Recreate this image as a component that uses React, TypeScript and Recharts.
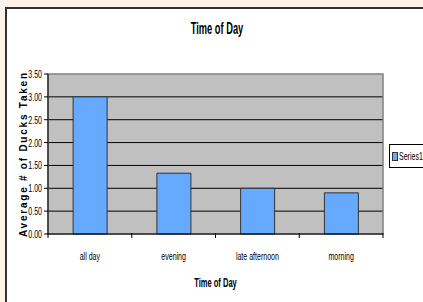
import React from 'react';
import { BarChart, Bar, XAxis, YAxis, CartesianGrid, ReferenceArea, Label } from 'recharts';

const categories = ['all day', 'evening', 'late afternoon', 'morning'];
const series1 = [3.0, 1.33, 1.0, 0.9];
const yTicks = [0, 0.5, 1, 1.5, 2, 2.5, 3, 3.5];
const gridValues = [0.5, 1, 1.5, 2, 2.5, 3];

const chartTitle = 'Time of Day';
const xTitle = 'Time of Day';
const yTitle = 'Average # of Ducks Taken';
const seriesName = 'Series1';

const data = categories.map((c, i) => ({ name: c, value: series1[i] }));

const FONT = '"Liberation Sans", Arial, sans-serif';
const SX = 0.64;

const YTitle = (props: any) => {
  const vb = props.viewBox || {};
  const cx = vb.x + vb.width - 25;
  const cy = vb.y + vb.height / 2 + 1;
  return (
    <text
      x={cx}
      y={cy}
      transform={`rotate(-90 ${cx} ${cy})`}
      textAnchor="middle"
      dominantBaseline="central"
      fontFamily={FONT}
      fontSize={10}
      fontWeight="bold"
      fill="#000"
      textLength={164}
      lengthAdjust="spacing"
    >
      {yTitle}
    </text>
  );
};

const XTitle = (props: any) => {
  const vb = props.viewBox || {};
  const cx = vb.x + vb.width / 2;
  return (
    <text
      transform={`translate(${cx} 287) scale(0.58 1)`}
      textAnchor="middle"
      fontFamily={FONT}
      fontSize={13}
      fontWeight="bold"
      fill="#000"
    >
      {xTitle}
    </text>
  );
};

const CatTick = (props: any) => {
  const { x, y, payload, index, width, visibleTicksCount } = props;
  const n = visibleTicksCount || categories.length;
  const half = width / n / 2;
  const axisY = y - 1;
  return (
    <g>
      <line x1={x - half} y1={axisY} x2={x - half} y2={axisY + 5} stroke="#000" />
      {index === n - 1 ? (
        <line x1={x + half} y1={axisY} x2={x + half} y2={axisY + 5} stroke="#000" />
      ) : null}
      <text
        transform={`translate(${x} ${axisY + 27}) scale(${SX} 1)`}
        textAnchor="middle"
        fontFamily={FONT}
        fontSize={11}
        fill="#000"
      >
        {payload.value}
      </text>
    </g>
  );
};

const ValTick = (props: any) => {
  const { x, y, payload } = props;
  return (
    <text
      transform={`translate(${x} ${y + 4}) scale(${SX} 1)`}
      textAnchor="end"
      fontFamily={FONT}
      fontSize={11}
      fill="#000"
    >
      {Number(payload.value).toFixed(2)}
    </text>
  );
};

export default function App() {
  return (
    <div style={{ position: 'absolute', left: 0, top: 0, width: 423, height: 302, background: '#fdf2ea', overflow: 'hidden' }}>
      <div
        style={{
          position: 'absolute',
          left: 5,
          top: 7,
          width: 440,
          height: 320,
          border: '2px solid #333',
          background: '#fff',
        }}
      />
      <div
        style={{
          position: 'absolute',
          left: 217,
          top: 21,
          lineHeight: '16px',
          whiteSpace: 'nowrap',
          transform: 'translateX(-50%) scaleX(0.58)',
          fontFamily: FONT,
          fontSize: 16,
          fontWeight: 'bold',
          color: '#000',
        }}
      >
        {chartTitle}
      </div>
      <div style={{ position: 'absolute', left: 0, top: 0 }}>
        <BarChart
          width={423}
          height={302}
          data={data}
          margin={{ top: 74, right: 40, bottom: 67, left: 0 }}
          barCategoryGap="30%"
        >
          <CartesianGrid
            horizontal={true}
            vertical={false}
            fill="#c0c0c0"
            fillOpacity={1}
            stroke="#000"
            horizontalValues={gridValues}
          />
          <ReferenceArea y1={0} y2={3.5} fill="none" stroke="#808080" strokeWidth={1.5} ifOverflow="visible" />
          <XAxis
            dataKey="name"
            height={1}
            axisLine={{ stroke: '#000', strokeWidth: 1 }}
            tickLine={false}
            tickSize={0}
            tickMargin={0}
            interval={0}
            tick={<CatTick />}
          >
            <Label content={<XTitle />} />
          </XAxis>
          <YAxis
            width={48}
            domain={[0, 3.5]}
            ticks={yTicks}
            interval={0}
            axisLine={{ stroke: '#000' }}
            tickLine={{ stroke: '#000' }}
            tickSize={4}
            tick={<ValTick />}
          >
            <Label content={<YTitle />} />
          </YAxis>
          <Bar
            dataKey="value"
            fill="#66aaff"
            stroke="#333"
            strokeWidth={1}
            isAnimationActive={false}
          />
        </BarChart>
      </div>
      <div
        style={{
          position: 'absolute',
          left: 389,
          top: 144,
          width: 60,
          height: 22,
          border: '1px solid #000',
          background: '#fff',
          display: 'flex',
          alignItems: 'center',
          fontFamily: FONT,
          fontSize: 11,
          color: '#000',
        }}
      >
        <span
          style={{
            display: 'inline-block',
            width: 4,
            height: 7,
            marginLeft: 2,
            marginRight: 1,
            background: '#66aaff',
            border: '1px solid #333',
            flex: 'none',
          }}
        />
        <span style={{ display: 'inline-block', transform: 'scaleX(0.64)', transformOrigin: 'left center', whiteSpace: 'nowrap' }}>
          {seriesName}
        </span>
      </div>
    </div>
  );
}
